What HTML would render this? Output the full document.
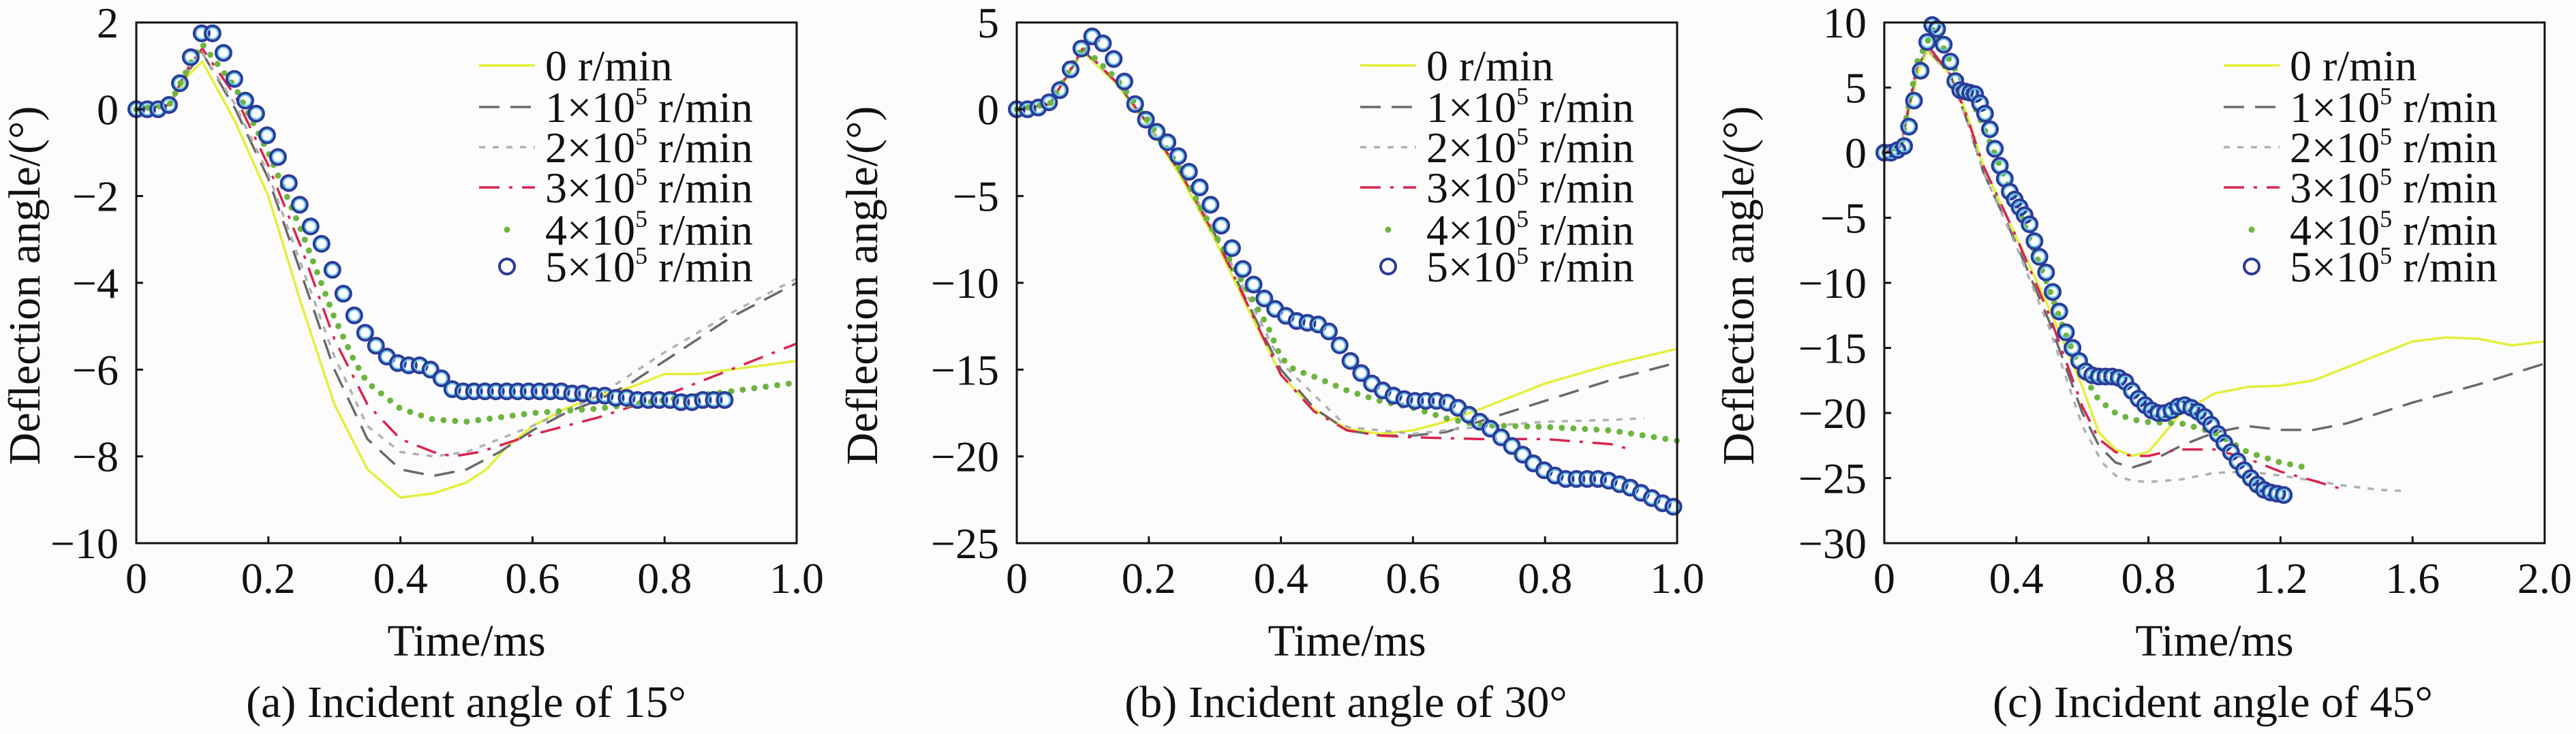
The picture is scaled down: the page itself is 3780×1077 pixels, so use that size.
<!DOCTYPE html>
<html><head><meta charset="utf-8"><style>
html,body{margin:0;padding:0;background:#fcfcfc;}
svg{display:block;font-family:"Liberation Serif",serif;}
</style></head><body>
<svg id="fig" width="3780" height="1077" viewBox="0 0 3780 1077" xmlns="http://www.w3.org/2000/svg">
<rect x="0" y="0" width="3780" height="1077" fill="#fcfcfc"/>
</svg>
<script>
// ---- Panel (a) data ----
const a0 = [[0,0],[0.05,0.1],[0.08,0.8],[0.1,1.1],[0.15,-0.3],[0.2,-2.0],[0.25,-4.5],[0.3,-6.8],[0.35,-8.3],[0.4,-8.95],[0.45,-8.85],[0.5,-8.6],[0.53,-8.3],[0.56,-7.8],[0.6,-7.3],[0.65,-6.9],[0.7,-6.6],[0.75,-6.4],[0.8,-6.1],[0.85,-6.1],[0.9,-6.0],[0.95,-5.9],[1.0,-5.8]];
const a1 = [[0,0],[0.05,0.1],[0.08,0.9],[0.1,1.3],[0.15,0.0],[0.2,-1.6],[0.25,-3.8],[0.3,-6.0],[0.35,-7.6],[0.4,-8.3],[0.45,-8.45],[0.5,-8.3],[0.55,-7.9],[0.6,-7.4],[0.65,-7.0],[0.7,-6.7],[0.75,-6.3],[0.8,-5.8],[0.85,-5.3],[0.9,-4.8],[0.95,-4.4],[1.0,-4.0]];
const a2 = [[0,0],[0.05,0.1],[0.08,0.9],[0.1,1.3],[0.15,0.1],[0.2,-1.5],[0.25,-3.6],[0.3,-5.7],[0.35,-7.3],[0.4,-7.9],[0.45,-8.0],[0.5,-7.9],[0.55,-7.6],[0.6,-7.3],[0.7,-6.6],[0.8,-5.6],[0.9,-4.7],[1.0,-3.9]];
const a3 = [[0,0],[0.05,0.1],[0.08,1.0],[0.1,1.4],[0.15,0.3],[0.2,-1.3],[0.25,-3.2],[0.3,-5.3],[0.35,-6.8],[0.4,-7.6],[0.45,-7.9],[0.48,-8.0],[0.52,-7.9],[0.6,-7.5],[0.7,-7.1],[0.8,-6.6],[0.9,-6.0],[1.0,-5.4]];
const a4 = [[0,0],[0.05,0.1],[0.08,1.0],[0.1,1.5],[0.15,0.5],[0.2,-1.0],[0.25,-2.8],[0.3,-4.8],[0.33,-5.8],[0.35,-6.3],[0.4,-6.9],[0.45,-7.15],[0.5,-7.2],[0.55,-7.1],[0.6,-7.0],[0.7,-6.9],[0.8,-6.7],[0.9,-6.5],[1.0,-6.3]];
const a5step = 0.0165;
const a5 = [0,0,0,0.1,0.6,1.2,1.75,1.75,1.3,0.7,0.2,-0.1,-0.6,-1.1,-1.7,-2.2,-2.7,-3.1,-3.7,-4.25,-4.75,-5.15,-5.45,-5.7,-5.85,-5.9,-5.9,-6.0,-6.2,-6.45,-6.5,-6.5,-6.5,-6.5,-6.5,-6.5,-6.5,-6.5,-6.5,-6.5,-6.55,-6.55,-6.6,-6.6,-6.65,-6.65,-6.7,-6.7,-6.7,-6.7,-6.75,-6.75,-6.7,-6.7,-6.7];
const aXTicks = [0,0.2,0.4,0.6,0.8,1.0];
const aXLabels = ["0","0.2","0.4","0.6","0.8","1.0"];
const aYTicks = [2,0,-2,-4,-6,-8,-10];
const aYLabels = ["2","0","\u22122","\u22124","\u22126","\u22128","\u221210"];

// ---- Panel (b) data ----
const b0 = [[0,0],[0.05,0.3],[0.1,3.3],[0.15,1.5],[0.2,-1.0],[0.25,-4.0],[0.3,-7.5],[0.35,-11.5],[0.4,-15.3],[0.45,-17.3],[0.5,-18.4],[0.55,-18.7],[0.6,-18.5],[0.65,-18.0],[0.7,-17.3],[0.8,-15.8],[0.9,-14.7],[1.0,-13.8]];
const b1 = [[0,0],[0.05,0.3],[0.1,3.4],[0.15,1.6],[0.2,-0.9],[0.25,-3.8],[0.3,-7.2],[0.35,-11.2],[0.4,-15.0],[0.45,-17.2],[0.5,-18.5],[0.55,-18.8],[0.6,-18.8],[0.65,-18.6],[0.7,-18.0],[0.8,-16.8],[0.9,-15.6],[1.0,-14.6]];
const b2 = [[0,0],[0.05,0.3],[0.1,3.4],[0.15,1.6],[0.2,-0.9],[0.25,-3.7],[0.3,-7.0],[0.35,-10.8],[0.4,-14.6],[0.5,-18.3],[0.6,-18.7],[0.7,-18.3],[0.8,-18.0],[0.9,-17.9],[0.95,-17.8]];
const b3 = [[0,0],[0.05,0.3],[0.1,3.5],[0.15,1.6],[0.2,-0.9],[0.25,-3.8],[0.3,-7.3],[0.35,-11.3],[0.4,-15.3],[0.45,-17.4],[0.5,-18.5],[0.55,-18.8],[0.6,-18.9],[0.7,-19.0],[0.8,-19.0],[0.9,-19.3],[0.93,-19.6]];
const b4 = [[0,0],[0.05,0.3],[0.1,3.6],[0.15,1.8],[0.2,-0.7],[0.25,-3.6],[0.3,-7.2],[0.35,-10.5],[0.38,-12.5],[0.4,-14.3],[0.42,-15.0],[0.45,-15.4],[0.5,-16.2],[0.55,-16.8],[0.6,-17.2],[0.65,-17.8],[0.7,-18.2],[0.8,-18.3],[0.9,-18.5],[1.0,-19.1]];
const b5step = 0.0163;
const b5 = [0,0,0.1,0.4,1.1,2.3,3.5,4.2,3.8,2.9,1.6,0.3,-0.6,-1.3,-1.9,-2.7,-3.6,-4.5,-5.5,-6.7,-8.0,-9.2,-10.1,-10.9,-11.5,-11.9,-12.2,-12.3,-12.4,-12.8,-13.6,-14.5,-15.2,-15.8,-16.2,-16.5,-16.7,-16.8,-16.8,-16.8,-16.9,-17.2,-17.6,-18.0,-18.4,-18.9,-19.4,-19.9,-20.4,-20.8,-21.1,-21.3,-21.3,-21.3,-21.3,-21.4,-21.6,-21.8,-22.1,-22.4,-22.7,-22.9];
const bXTicks = [0,0.2,0.4,0.6,0.8,1.0];
const bXLabels = ["0","0.2","0.4","0.6","0.8","1.0"];
const bYTicks = [5,0,-5,-10,-15,-20,-25];
const bYLabels = ["5","0","\u22125","\u221210","\u221215","\u221220","\u221225"];

// ---- Panel (c) data ----
const c0 = [[0,0],[0.05,0.5],[0.1,6],[0.13,7.8],[0.2,6],[0.25,3],[0.3,-1],[0.4,-6.5],[0.5,-12],[0.6,-18],[0.65,-21.5],[0.7,-22.8],[0.75,-23.3],[0.8,-23],[0.85,-21.5],[0.9,-20],[1.0,-18.5],[1.1,-18],[1.2,-17.9],[1.3,-17.5],[1.4,-16.5],[1.5,-15.5],[1.6,-14.5],[1.7,-14.2],[1.8,-14.3],[1.9,-14.8],[2.0,-14.5]];
const c1 = [[0,0],[0.05,0.5],[0.1,6.5],[0.13,8],[0.2,6],[0.25,2.5],[0.3,-1.5],[0.4,-7],[0.5,-13],[0.6,-20],[0.65,-22.5],[0.7,-23.8],[0.75,-24.2],[0.8,-23.8],[0.9,-22.5],[1.0,-21.5],[1.1,-21.0],[1.2,-21.3],[1.3,-21.3],[1.4,-20.8],[1.5,-20],[1.6,-19.2],[1.7,-18.5],[1.8,-17.8],[1.9,-17],[2.0,-16.2]];
const c2 = [[0,0],[0.05,0.5],[0.1,6.5],[0.13,8],[0.2,6],[0.25,2.5],[0.3,-1.5],[0.4,-7.2],[0.5,-13.5],[0.6,-21],[0.66,-23.8],[0.7,-24.8],[0.75,-25.2],[0.8,-25.3],[0.9,-25.1],[1.0,-24.6],[1.1,-24.5],[1.2,-24.8],[1.3,-25.2],[1.4,-25.6],[1.5,-25.9],[1.58,-26.0]];
const c3 = [[0,0],[0.05,0.5],[0.1,6.8],[0.13,8.3],[0.2,6],[0.25,2.8],[0.3,-1],[0.4,-6.5],[0.5,-12.5],[0.6,-19.5],[0.65,-22],[0.7,-23],[0.75,-23.3],[0.8,-23.3],[0.85,-23],[0.9,-22.8],[1.0,-22.8],[1.1,-23.5],[1.2,-24.5],[1.3,-25.2],[1.38,-25.8]];
const c4 = [[0,0],[0.05,0.5],[0.1,7],[0.15,9.5],[0.2,7],[0.25,5],[0.3,2],[0.4,-4],[0.5,-10.5],[0.55,-14],[0.6,-17],[0.65,-19],[0.7,-20],[0.75,-20.5],[0.8,-20.7],[0.9,-20.8],[1.0,-21.5],[1.1,-23],[1.2,-23.8],[1.28,-24.2]];
const c5t = [0,0.02,0.04,0.06,0.075,0.09,0.11,0.13,0.145,0.16,0.18,0.2,0.215,0.23,0.245,0.26,0.275,0.29,0.305,0.32,0.335,0.35,0.365,0.38,0.395,0.41,0.425,0.44,0.455,0.47,0.49,0.51,0.53,0.55,0.57,0.59,0.61,0.63,0.65,0.67,0.69,0.71,0.73,0.75,0.77,0.79,0.81,0.83,0.85,0.87,0.89,0.91,0.93,0.95,0.97,0.99,1.01,1.03,1.05,1.07,1.09,1.11,1.13,1.15,1.17,1.19,1.21];
const c5v = [0,0,0.2,0.5,2,4,6.3,8.5,9.8,9.5,8.3,7,5.5,4.8,4.7,4.6,4.5,3.8,3,1.8,0.3,-1,-2,-3,-3.6,-4.2,-4.8,-5.5,-6.8,-8.0,-9.2,-10.7,-12.2,-13.8,-15,-16,-16.8,-17.1,-17.2,-17.2,-17.2,-17.3,-17.6,-18.3,-18.9,-19.4,-19.8,-20,-20,-19.8,-19.5,-19.4,-19.6,-19.9,-20.3,-20.9,-21.6,-22.3,-23,-23.7,-24.4,-25,-25.5,-25.9,-26.1,-26.2,-26.3];
const cXTicks = [0,0.4,0.8,1.2,1.6,2.0];
const cXLabels = ["0","0.4","0.8","1.2","1.6","2.0"];
const cYTicks = [10,5,0,-5,-10,-15,-20,-25,-30];
const cYLabels = ["10","5","0","\u22125","\u221210","\u221215","\u221220","\u221225","\u221230"];

const legendLabels = ["0 r/min","1\u00d710","2\u00d710","3\u00d710","4\u00d710","5\u00d710"];

const NS = "http://www.w3.org/2000/svg";
const svg = document.getElementById('fig');
function mk(tag, attrs, parent){ const e=document.createElementNS(NS,tag); for(const k in attrs) e.setAttribute(k,attrs[k]); (parent||svg).appendChild(e); return e; }

const styles = [
 {stroke:"#e4ef3a", w:3.5, dash:null},
 {stroke:"#6a6a6a", w:3.5, dash:"30 16"},
 {stroke:"#b0b0b0", w:3.5, dash:"9 11"},
 {stroke:"#d9244f", w:3.5, dash:"30 14 5 14"},
];

function panel(id, cfg){
  const g = mk('g',{});
  
  
  const L=cfg.L,R=cfg.R,T=33,B=797;
  const sx = t => L + (t-cfg.x0)/(cfg.x1-cfg.x0)*(R-L);
  const sy = v => T + (cfg.y1-v)/(cfg.y1-cfg.y0)*(B-T);
  const plot = mk('g',{},g);
  
  
  cfg.lines.forEach((ser,i)=>{
    const pts = ser.map(p=>sx(p[0]).toFixed(1)+','+sy(p[1]).toFixed(1)).join(' ');
    const st = styles[i];
    const pl = mk('polyline',{points:pts,fill:'none',stroke:st.stroke,'stroke-width':st.w,'stroke-linejoin':'round'},plot);
    if(st.dash) pl.setAttribute('stroke-dasharray',st.dash);
    
    
  });
  const gpts = cfg.dots.map(p=>sx(p[0]).toFixed(1)+','+sy(p[1]).toFixed(1)).join(' ');
  const gd = mk('polyline',{points:gpts,fill:'none',stroke:'#6db53f','stroke-width':9,'stroke-linecap':'round','stroke-dasharray':'0 17'},plot);
  
  
  cfg.circT.forEach((t,i)=>{
    const cx=sx(t), cy=sy(cfg.circV[i]);
    const c = mk('circle',{cx:cx.toFixed(1),cy:cy.toFixed(1),r:11,fill:'none',stroke:'#2b3b98','stroke-width':4},plot);
    
    
    const c2 = mk('circle',{cx:cx.toFixed(1),cy:cy.toFixed(1),r:8,fill:'none',stroke:'#6cc9ea','stroke-width':2},plot);
    
    
  });
  const fr = mk('rect',{x:L,y:T,width:R-L,height:B-T,fill:'none',stroke:'#111','stroke-width':3},g);
  
  
  cfg.xt.forEach((t,i)=>{
    const x=sx(t);
    const tk = mk('line',{x1:x,y1:B,x2:x,y2:B-10,stroke:'#111','stroke-width':3},g);
    
    
    const tx = mk('text',{x:x,y:870,'font-size':64,'text-anchor':'middle',fill:'#111'},g);
    tx.textContent = cfg.xl[i];
    
    
  });
  cfg.yt.forEach((v,i)=>{
    const y=sy(v);
    const tk = mk('line',{x1:L,y1:y,x2:L+10,y2:y,stroke:'#111','stroke-width':3},g);
    
    
    const tx = mk('text',{x:L-26,y:y+22,'font-size':64,'text-anchor':'end',fill:'#111'},g);
    tx.textContent = cfg.yl[i];
    
    
  });
  const xt = mk('text',{x:(L+R)/2,y:962,'font-size':66,'text-anchor':'middle',fill:'#111'},g);
  xt.textContent='Time/ms';
  
  
  const yt = mk('text',{x:0,y:0,'font-size':66,'text-anchor':'middle',fill:'#111',transform:`translate(${cfg.yTitleX},419) rotate(-90)`},g);
  yt.textContent='Deflection angle/(\u00b0)';
  
  
  const cap = mk('text',{x:cfg.capX,y:1052,'font-size':66,'text-anchor':'middle',fill:'#111'},g);
  cap.textContent=cfg.caption;
  
  
  const lg = mk('g',{},g);
  
  
  const rows=[96,157,216,275,337,391];
  const s0=cfg.legX, s1=cfg.legX+82, tx0=cfg.legX+97;
  legendLabels.forEach((lab,i)=>{
    const y=rows[i];
    const e = mk('g',{},lg);
    
    
    if(i<4){
      const st=styles[i];
      const ln=mk('line',{x1:s0,y1:y,x2:s1,y2:y,stroke:st.stroke,'stroke-width':st.w},e);
      if(st.dash) ln.setAttribute('stroke-dasharray',st.dash);
      
      
    } else if(i===4){
      const d=mk('circle',{cx:(s0+s1)/2,cy:y,r:4.5,fill:'#6db53f'},e);
      
      
    } else {
      const d=mk('circle',{cx:(s0+s1)/2,cy:y,r:11,fill:'none',stroke:'#2b3b98','stroke-width':4},e);
      
      
    }
    const t=mk('text',{x:tx0,y:y+22,'font-size':64,fill:'#111'},e);
    
    
    if(i===0){ t.textContent=lab; }
    else {
      t.appendChild(document.createTextNode(lab));
      const sp=document.createElementNS(NS,'tspan'); sp.setAttribute('font-size','36'); sp.setAttribute('dy','-26'); sp.textContent='5'; t.appendChild(sp);
      const sp2=document.createElementNS(NS,'tspan'); sp2.setAttribute('dy','26'); sp2.textContent=' r/min'; t.appendChild(sp2);
    }
  });
}

function tsFromStep(vals, step){ return vals.map((v,i)=>i*step); }

panel('a',{L:200,R:1169,x0:0,x1:1,y0:-10,y1:2,lines:[a0,a1,a2,a3],dots:a4,circT:tsFromStep(a5,a5step),circV:a5,xt:aXTicks,xl:aXLabels,yt:aYTicks,yl:aYLabels,yTitleX:58,capX:684,caption:'(a) Incident angle of 15\u00b0',legX:703});
panel('b',{L:1492,R:2461,x0:0,x1:1,y0:-25,y1:5,lines:[b0,b1,b2,b3],dots:b4,circT:tsFromStep(b5,b5step),circV:b5,xt:bXTicks,xl:bXLabels,yt:bYTicks,yl:bYLabels,yTitleX:1287,capX:1975,caption:'(b) Incident angle of 30\u00b0',legX:1996});
panel('c',{L:2765,R:3734,x0:0,x1:2,y0:-30,y1:10,lines:[c0,c1,c2,c3],dots:c4,circT:c5t,circV:c5v,xt:cXTicks,xl:cXLabels,yt:cYTicks,yl:cYLabels,yTitleX:2573,capX:3247,caption:'(c) Incident angle of 45\u00b0',legX:3263});
</script>
</body></html>
